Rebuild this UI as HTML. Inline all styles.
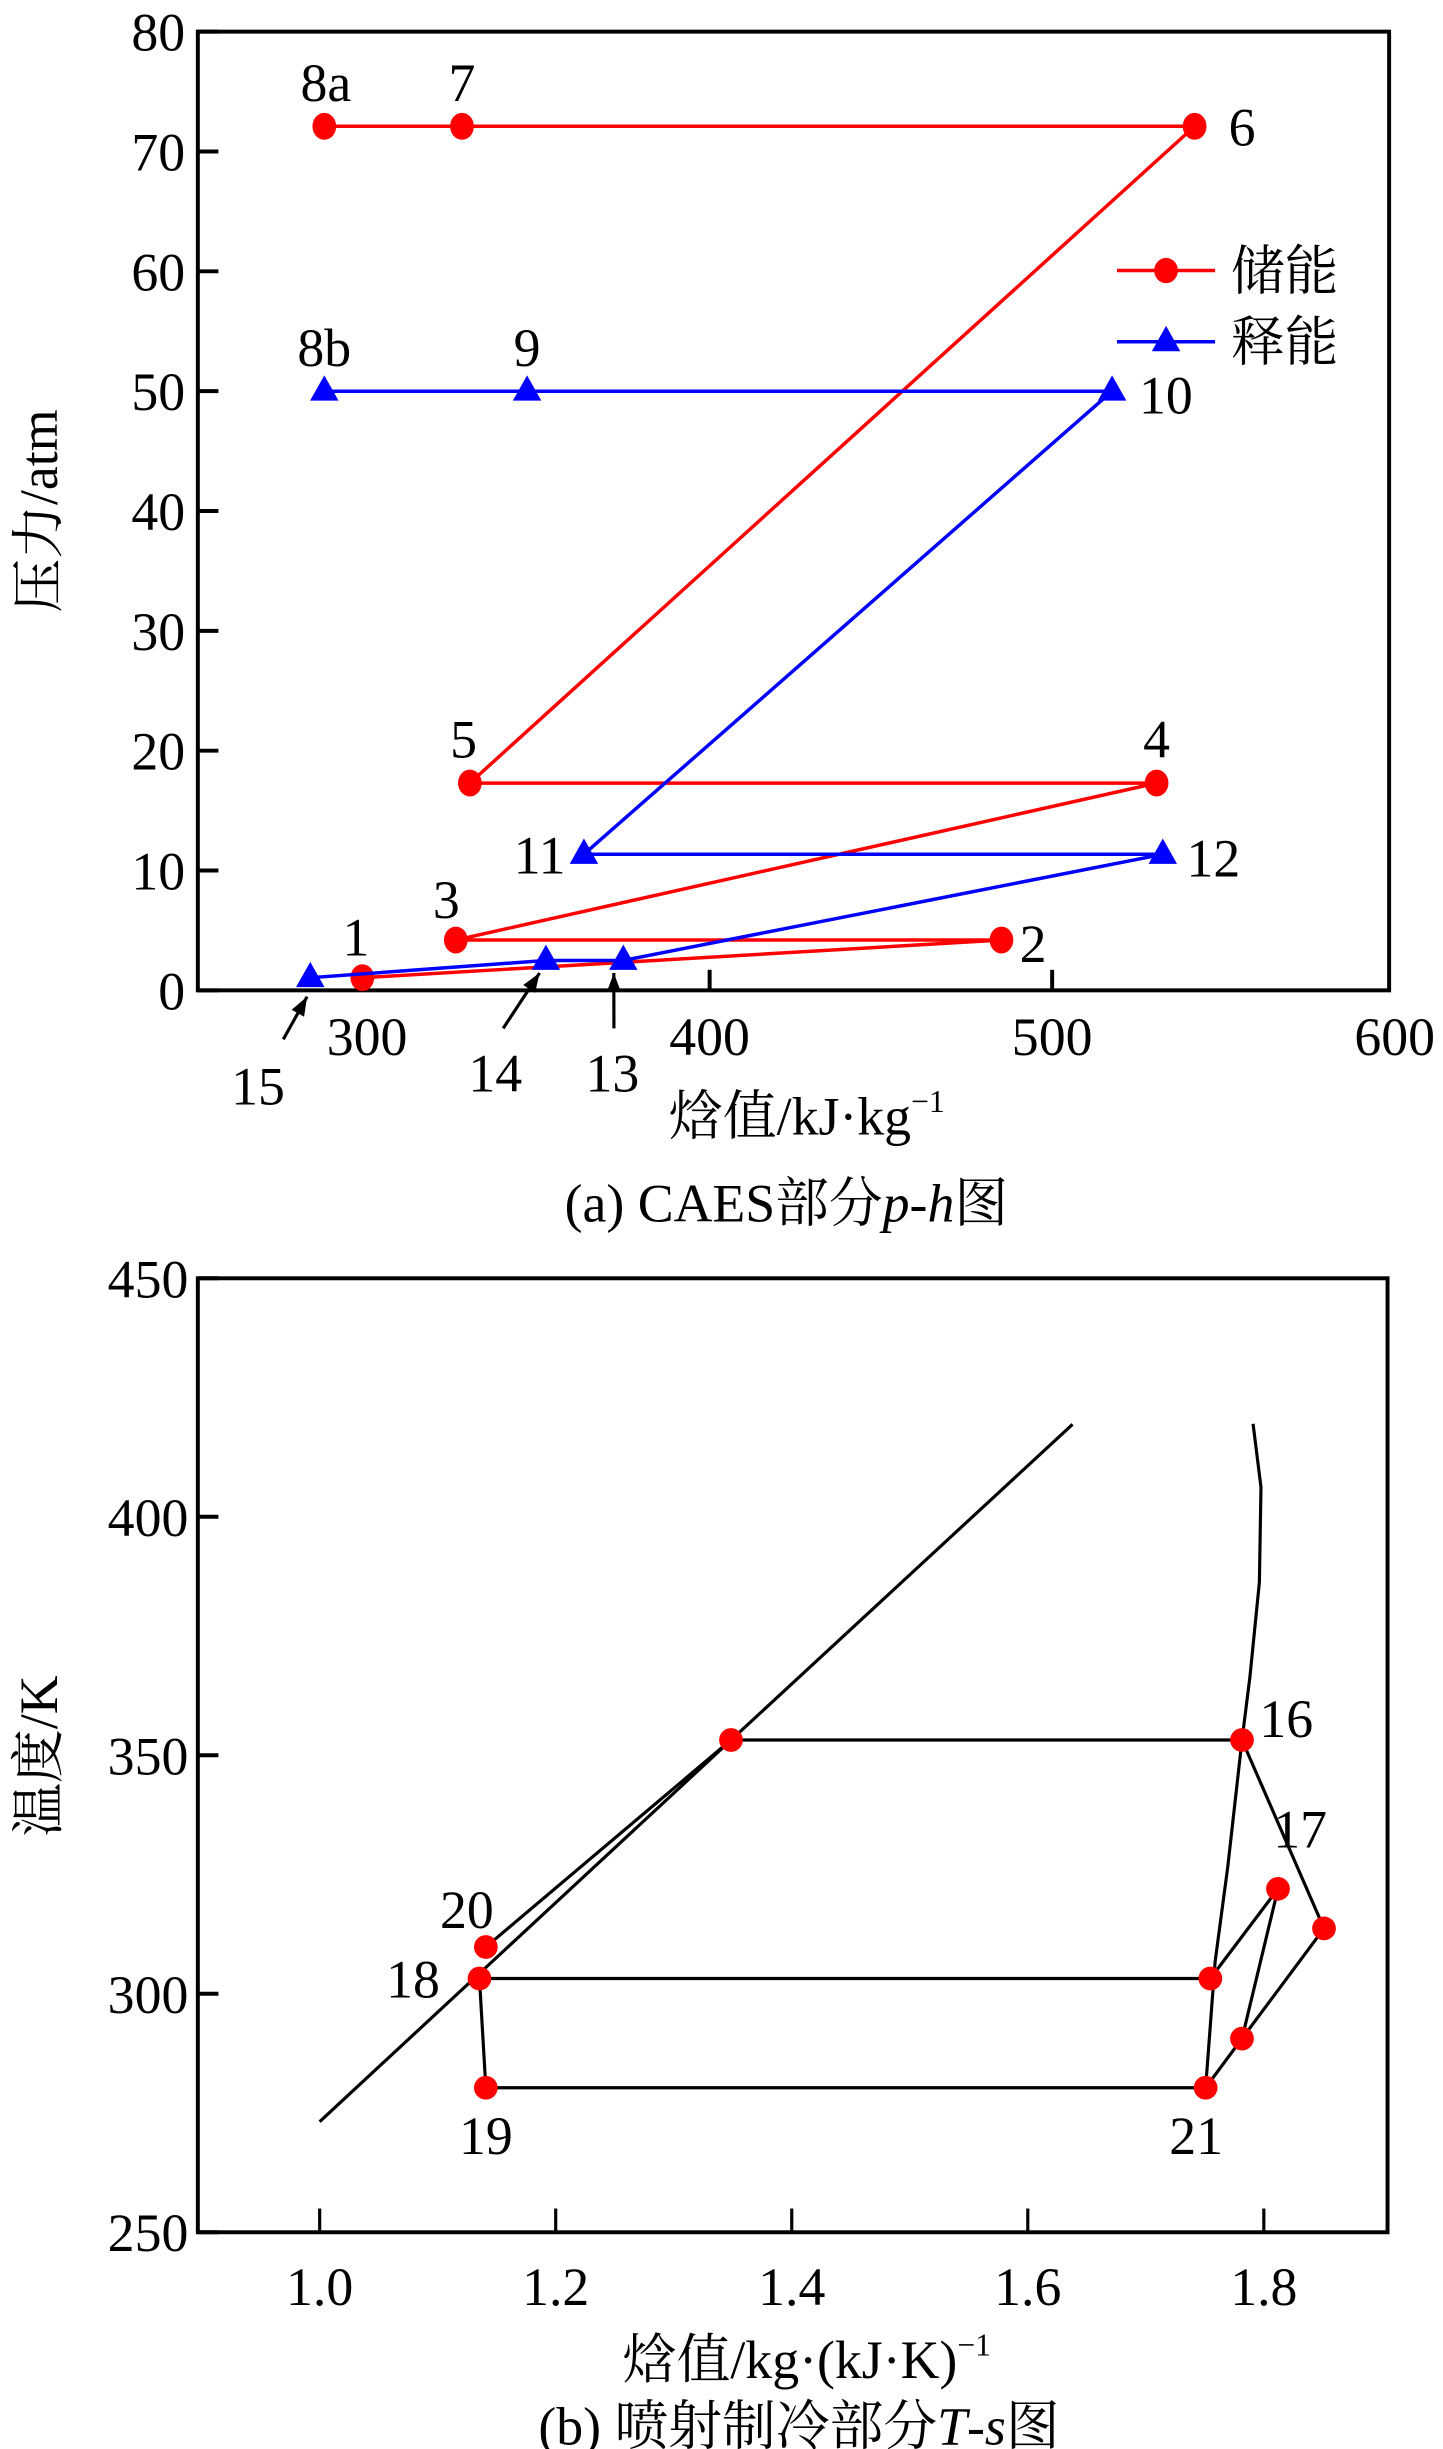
<!DOCTYPE html>
<html><head><meta charset="utf-8"><style>
html,body{margin:0;padding:0;background:#fff;}
svg{display:block;}
text{font-family:"Liberation Serif","Noto Serif CJK SC",serif;fill:#000;}
</style></head><body>
<svg id="chart" width="1443" height="2449" viewBox="0 0 912 1548" xmlns="http://www.w3.org/2000/svg">
<rect x="0" y="0" width="912" height="1548" fill="#fff"/>
<g id="topChart"></g>
<g id="botChart"></g>
</svg>
<script>
// ---- Chart (a) data ----
const phXTicks = [300, 400, 500, 600];
const phYTicks = [0, 10, 20, 30, 40, 50, 60, 70, 80];
const storeLabels = ['1','2','3','4','5','6','7','8a'];
const storeH = [298.6, 485.2, 325.9, 530.5, 330.0, 541.6, 327.7, 287.5];
const storeP = [1.06, 4.2, 4.2, 17.3, 17.3, 72.1, 72.1, 72.1];
const releaseLabels = ['8b','9','10','11','12','13','14','15'];
const releaseH = [287.5, 346.7, 517.5, 363.3, 532.3, 374.8, 352.2, 283.4];
const releaseP = [50, 50, 50, 11.35, 11.35, 2.5, 2.5, 1.06];
// ---- Chart (b) data ----
const tsXTicks = [1.0, 1.2, 1.4, 1.6, 1.8];
const tsYTicks = [250, 300, 350, 400, 450];
const liqS = [1.0, 1.3485, 1.638];
const liqT = [273.2, 353.2, 419.4];
const vapS = [1.7909, 1.7976, 1.7962, 1.7882, 1.7815, 1.7694, 1.7587, 1.7507];
const vapT = [419.5, 406.2, 386.3, 366.4, 353.2, 326.6, 306.7, 280.2];
const cycS = [1.3485, 1.7815, 1.851, 1.7815, 1.812, 1.7547, 1.7507, 1.1408, 1.1354, 1.1408];
const cycT = [353.2, 353.2, 313.7, 290.6, 322.0, 303.2, 280.3, 280.3, 303.2, 309.8];
const cycLabels = ['', '16', '', '', '17', '', '21', '19', '18', '20'];
const cycEdges = [[0,1],[1,2],[2,3],[3,6],[3,4],[4,5],[8,5],[7,6],[8,7],[9,0]];

const NS = 'http://www.w3.org/2000/svg';
function mk(tag, attrs, parent, txt){
  const e = document.createElementNS(NS, tag);
  for (const k in attrs) e.setAttribute(k, attrs[k]);
  if (txt !== undefined) e.textContent = txt;
  parent.appendChild(e); return e;
}
const gTop = document.getElementById('topChart');
const gBot = document.getElementById('botChart');

// ===== Chart (a) =====
const A = {l:125, r:878, t:20, b:626};
const ax = h => 232 + (h - 300) * 2.165;
const ay = p => A.b - p * 7.575;

let fr = mk('rect', {x:A.l, y:A.t, width:A.r-A.l, height:A.b-A.t, fill:'none', stroke:'#000', 'stroke-width':2.5}, gTop);


phYTicks.forEach(v => {
  const y = ay(v);
  let t = mk('line', {x1:A.l, x2:A.l+13, y1:y, y2:y, stroke:'#000', 'stroke-width':2.5}, gTop);
  
  
  let l = mk('text', {x:A.l-8, y:y+12, 'text-anchor':'end', 'font-size':34}, gTop, String(v));
  
  
});
phXTicks.forEach(v => {
  const x = ax(v);
  if (v < 600) {
    let t = mk('line', {x1:x, x2:x, y1:A.b, y2:A.b-13, stroke:'#000', 'stroke-width':2.5}, gTop);
    
    
  }
  let l = mk('text', {x:x, y:667, 'text-anchor':'middle', 'font-size':34}, gTop, String(v));
  
  
});

function series(H, P, color, marker, labels, name, offs){
  const g = mk('g', {}, gTop);
  
  
  let d = H.map((h,i) => (i?'L':'M') + ax(h).toFixed(1) + ' ' + ay(P[i]).toFixed(1)).join(' ');
  let pl = mk('path', {d:d, fill:'none', stroke:color, 'stroke-width':2.2}, g);
  
  
  H.forEach((h,i) => {
    const x = ax(h), y = ay(P[i]);
    let m;
    if (marker === 'c') m = mk('ellipse', {cx:x, cy:y, rx:7.5, ry:8.5, fill:color}, g);
    else m = mk('polygon', {points:`${x},${y-10} ${x-9},${y+6} ${x+9},${y+6}`, fill:color}, g);
    
    
    const o = offs[i];
    if (o) {
      let t = mk('text', {x:x+o[0], y:y+o[1], 'text-anchor':'middle', 'font-size':34}, g, labels[i]);
      
      
    }
  });
}
series(storeH, storeP, '#ff0000', 'c', storeLabels, 'storage-series',
  [[-4,-14],[20,14],[-6,-14],[0,-16],[-4,-16],[30,12],[0,-16],[1,-16]]);
series(releaseH, releaseP, '#0000ff', 't', releaseLabels, 'release-series',
  [[0,-16],[0,-16],[34,14],[-28,12],[32,14],null,null,null]);

// arrows for 13,14,15
function arrow(x1,y1,x2,y2,lbl,lx,ly){
  const g = mk('g', {}, gTop);
  
  
  mk('line', {x1:x1,y1:y1,x2:x2,y2:y2,stroke:'#000','stroke-width':2}, g);
  const a = Math.atan2(y2-y1,x2-x1), L=12, W=4.5;
  const hx = x2 - L*Math.cos(a), hy = y2 - L*Math.sin(a);
  mk('polygon', {points:`${x2},${y2} ${hx+W*Math.sin(a)},${hy-W*Math.cos(a)} ${hx-W*Math.sin(a)},${hy+W*Math.cos(a)}`, fill:'#000'}, g);
  mk('text', {x:lx, y:ly, 'text-anchor':'middle', 'font-size':34}, g, lbl);
}
arrow(179,657, ax(283.4)-2, ay(1.06)+12, '15', 163, 698);
arrow(318,650, ax(352.2)-4, ay(2.5)+8, '14', 313, 690);
arrow(388,650, ax(374.8)-6, ay(2.5)+8, '13', 387, 690);

// legend
const lg = mk('g', {}, gTop);


mk('line', {x1:706,x2:768,y1:171,y2:171,stroke:'#ff0000','stroke-width':2.2}, lg);
mk('ellipse', {cx:737,cy:171,rx:7.5,ry:8,fill:'#ff0000'}, lg);
mk('text', {x:778, y:183, 'font-size':34}, lg, '储能');
mk('line', {x1:706,x2:768,y1:216,y2:216,stroke:'#0000ff','stroke-width':2.2}, lg);
mk('polygon', {points:'737,206 728,222 746,222', fill:'#0000ff'}, lg);
mk('text', {x:778, y:228, 'font-size':34}, lg, '释能');

let t1 = mk('text', {x:0, y:0, 'text-anchor':'middle', 'font-size':34, transform:'translate(36,323) rotate(-90)'}, gTop, '压力/atm');


let t2 = mk('text', {x:510, y:717, 'text-anchor':'middle', 'font-size':34}, gTop);


t2.innerHTML = '焓值/kJ·kg<tspan dy="-14" font-size="20">−1</tspan>';
let c1 = mk('text', {x:497, y:772, 'text-anchor':'middle', 'font-size':34}, gTop);


c1.innerHTML = '(a) CAES部分<tspan font-style="italic">p</tspan>-<tspan font-style="italic">h</tspan>图';

// ===== Chart (b) =====
const B = {l:125, r:877, t:808, b:1411};
const sx = s => 202 + (s - 1.0) * 746;
const sy = T => B.b - (T - 250) * 3.015;

let fr2 = mk('rect', {x:B.l, y:B.t, width:B.r-B.l, height:B.b-B.t, fill:'none', stroke:'#000', 'stroke-width':2.5}, gBot);


tsYTicks.forEach(v => {
  const y = sy(v);
  let t = mk('line', {x1:B.l, x2:B.l+13, y1:y, y2:y, stroke:'#000', 'stroke-width':2.5}, gBot);
  
  
  let l = mk('text', {x:B.l-6, y:y+12, 'text-anchor':'end', 'font-size':34}, gBot, String(v));
  
  
});
tsXTicks.forEach(v => {
  const x = sx(v);
  let t = mk('line', {x1:x, x2:x, y1:B.b, y2:B.b-15, stroke:'#000', 'stroke-width':2}, gBot);
  
  
  let l = mk('text', {x:x, y:1457, 'text-anchor':'middle', 'font-size':34}, gBot, v.toFixed(1));
  
  
});
function curve(S, T, name){
  const d = S.map((s,i) => (i?'L':'M') + sx(s).toFixed(1) + ' ' + sy(T[i]).toFixed(1)).join(' ');
  let p = mk('path', {d:d, fill:'none', stroke:'#000', 'stroke-width':2}, gBot);
  
  
}
curve(liqS, liqT, 'saturated-liquid-line');
curve(vapS, vapT, 'saturated-vapor-line');
cycEdges.forEach(e => {
  let l = mk('line', {x1:sx(cycS[e[0]]), y1:sy(cycT[e[0]]), x2:sx(cycS[e[1]]), y2:sy(cycT[e[1]]), stroke:'#000', 'stroke-width':2}, gBot);
  
  
});
const lblOff = {'16':[28,-2],'17':[14,-26],'21':[-6,42],'19':[0,42],'18':[-42,12],'20':[-12,-12]};
cycS.forEach((s,i) => {
  const x = sx(s), y = sy(cycT[i]);
  let c = mk('circle', {cx:x, cy:y, r:7.5, fill:'#ff0000'}, gBot);
  
  
  if (cycLabels[i]) {
    const o = lblOff[cycLabels[i]];
    let t = mk('text', {x:x+o[0], y:y+o[1], 'text-anchor':'middle', 'font-size':34}, gBot, cycLabels[i]);
    
    
  }
});
let t3 = mk('text', {x:0, y:0, 'text-anchor':'middle', 'font-size':34, transform:'translate(36,1110) rotate(-90)'}, gBot, '温度/K');


let t4 = mk('text', {x:510, y:1503, 'text-anchor':'middle', 'font-size':34}, gBot);


t4.innerHTML = '焓值/kg·(kJ·K)<tspan dy="-14" font-size="20">−1</tspan>';
let c2 = mk('text', {x:505, y:1545, 'text-anchor':'middle', 'font-size':34}, gBot);


c2.innerHTML = '(b) 喷射制冷部分<tspan font-style="italic">T</tspan>-<tspan font-style="italic">s</tspan>图';
</script>
</body></html>
